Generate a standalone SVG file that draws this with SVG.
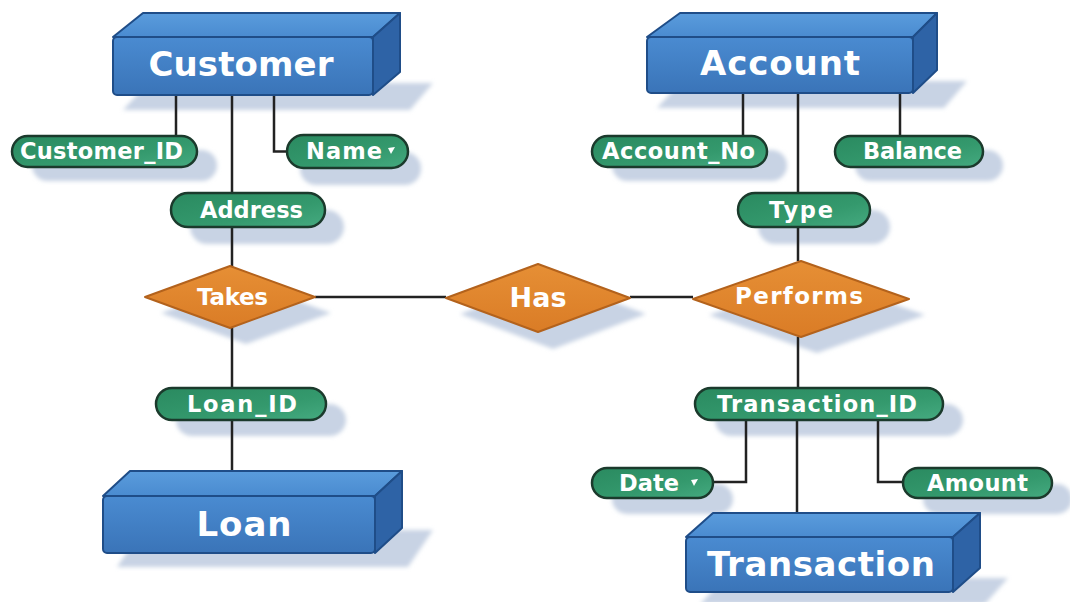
<svg xmlns="http://www.w3.org/2000/svg" width="1070" height="602" viewBox="0 0 1070 602">
<defs>
<linearGradient id="gFront" x1="0" y1="0" x2="0" y2="1"><stop offset="0" stop-color="#4a8bd1"/><stop offset="1" stop-color="#3a74b8"/></linearGradient>
<linearGradient id="gTop" x1="0" y1="0" x2="0" y2="1"><stop offset="0" stop-color="#5a9cdc"/><stop offset="1" stop-color="#4a8bd0"/></linearGradient>
<linearGradient id="gPill" x1="0" y1="0" x2="1" y2="1"><stop offset="0" stop-color="#2a8a60"/><stop offset="0.6" stop-color="#34996d"/><stop offset="1" stop-color="#45aa80"/></linearGradient>
<linearGradient id="gDia" x1="0" y1="0" x2="0" y2="1"><stop offset="0" stop-color="#e68f35"/><stop offset="1" stop-color="#da7c26"/></linearGradient>
<filter id="blur" x="-20%" y="-50%" width="140%" height="200%"><feGaussianBlur stdDeviation="2"/></filter>
</defs>
<style>
.front{fill:url(#gFront);stroke:#1f4d88;stroke-width:2;stroke-linejoin:round}
.top{fill:url(#gTop);stroke:#1f4d88;stroke-width:2;stroke-linejoin:round}
.side{fill:#2e63a6;stroke:#1f4d88;stroke-width:2;stroke-linejoin:round}
.pill{fill:url(#gPill);stroke:#1b3a2c;stroke-width:2.5}
.dia{fill:url(#gDia);stroke:#b3621c;stroke-width:2;stroke-linejoin:round}
.sh{fill:#c8d3e4;filter:url(#blur)}
.et{font-family:"DejaVu Sans","Liberation Sans",sans-serif;font-weight:bold;font-size:34px;fill:#fff;text-anchor:middle}
.at{font-family:"DejaVu Sans","Liberation Sans",sans-serif;font-weight:bold;font-size:22.5px;fill:#fff;text-anchor:middle}
.rt{font-family:"DejaVu Sans","Liberation Sans",sans-serif;font-weight:bold;font-size:23px;fill:#fff;text-anchor:middle}
.rt.big{font-size:27px}
.mark{fill:#fff}
.ln{stroke:#222;stroke-width:2.5;fill:none}
</style>
<rect width="1070" height="602" fill="#ffffff"/>
<g id="shadows">
<polygon class="sh" points="123,110 410,110 433,83 148,83"/>
<polygon class="sh" points="657,108 944,108 967,81 682,81"/>
<polygon class="sh" points="117,567 408,567 433,530 142,530"/>
<polygon class="sh" points="700,604 985,604 1008,578 725,578"/>
<rect class="sh" x="32" y="150" width="185" height="31" rx="15.5"/>
<rect class="sh" x="300" y="152" width="121" height="33" rx="16"/>
<rect class="sh" x="190" y="210" width="154" height="34" rx="17"/>
<rect class="sh" x="612" y="150" width="175" height="31" rx="15.5"/>
<rect class="sh" x="855" y="150" width="148" height="31" rx="15.5"/>
<rect class="sh" x="758" y="210" width="132" height="34" rx="17"/>
<rect class="sh" x="176" y="404" width="170" height="32" rx="16"/>
<rect class="sh" x="715" y="404" width="248" height="32" rx="16"/>
<rect class="sh" x="612" y="484" width="121" height="30" rx="15"/>
<rect class="sh" x="923" y="484" width="149" height="30" rx="15"/>
<polygon class="sh" points="161,313 246,282 331,313 246,344"/>
<polygon class="sh" points="460,314 553,279 646,314 553,349"/>
<polygon class="sh" points="709,315 817,277 925,315 817,353"/>
</g>
<g id="connectors">
<path class="ln" d="M176 95 V136"/>
<path class="ln" d="M232 95 V193"/>
<path class="ln" d="M274 95 V151.5 H287"/>
<path class="ln" d="M232 227 V267"/>
<path class="ln" d="M232 328 V388"/>
<path class="ln" d="M232 420 V471"/>
<path class="ln" d="M315 297 H446"/>
<path class="ln" d="M630 297 H693"/>
<path class="ln" d="M743 93 V136"/>
<path class="ln" d="M798 93 V193"/>
<path class="ln" d="M900 93 V136"/>
<path class="ln" d="M798 227 V261"/>
<path class="ln" d="M798 337 V388"/>
<path class="ln" d="M797 420 V513"/>
<path class="ln" d="M746 420 V482 H713"/>
<path class="ln" d="M878 420 V482 H903"/>
</g>
<g id="customer">
<polygon class="top" points="113,37 143,13 400,13 373,37"/>
<polygon class="side" points="373,37 400,13 400,72 373,95"/>
<rect class="front" x="113" y="37" width="260" height="58" rx="4"/>
<text class="et" x="241" y="76" textLength="185" lengthAdjust="spacing">Customer</text>
</g>
<g id="account">
<polygon class="top" points="647,37 680,13 937,13 913,37"/>
<polygon class="side" points="913,37 937,13 937,70 913,93"/>
<rect class="front" x="647" y="37" width="266" height="56" rx="4"/>
<text class="et" x="780" y="75" textLength="160" lengthAdjust="spacing">Account</text>
</g>
<g id="loan">
<polygon class="top" points="103,496 130,471 402,471 375,496"/>
<polygon class="side" points="375,496 402,471 402,528 375,553"/>
<rect class="front" x="103" y="496" width="272" height="57" rx="4"/>
<text class="et" x="244" y="536" textLength="95" lengthAdjust="spacing">Loan</text>
</g>
<g id="transaction">
<polygon class="top" points="686,537 713,513 980,513 953,537"/>
<polygon class="side" points="953,537 980,513 980,568 953,592"/>
<rect class="front" x="686" y="537" width="267" height="55" rx="4"/>
<text class="et" x="821" y="576" textLength="228" lengthAdjust="spacing">Transaction</text>
</g>
<g id="customer_id">
<rect class="pill" x="12" y="136" width="185" height="31" rx="15.5"/>
<text class="at" x="101.5" y="159" textLength="163" lengthAdjust="spacing">Customer_ID</text>
</g>
<g id="name">
<rect class="pill" x="287" y="135" width="121" height="33" rx="16.5"/>
<text class="at" x="344" y="159" textLength="76" lengthAdjust="spacing">Name</text>
<polygon class="mark" points="388,148 395,147 391,154"/>
</g>
<g id="address">
<rect class="pill" x="171" y="193" width="154" height="34" rx="17"/>
<text class="at" x="251.5" y="218" textLength="103" lengthAdjust="spacing">Address</text>
</g>
<g id="account_no">
<rect class="pill" x="592" y="136" width="175" height="31" rx="15.5"/>
<text class="at" x="678.5" y="159" textLength="153" lengthAdjust="spacing">Account_No</text>
</g>
<g id="balance">
<rect class="pill" x="835" y="136" width="148" height="31" rx="15.5"/>
<text class="at" x="912.5" y="159" textLength="99" lengthAdjust="spacing">Balance</text>
</g>
<g id="type">
<rect class="pill" x="738" y="193" width="132" height="34" rx="17"/>
<text class="at" x="801" y="218" textLength="64" lengthAdjust="spacing">Type</text>
</g>
<g id="loan_id">
<rect class="pill" x="156" y="388" width="170" height="32" rx="16"/>
<text class="at" x="242" y="412" textLength="110" lengthAdjust="spacing">Loan_ID</text>
</g>
<g id="transaction_id">
<rect class="pill" x="695" y="388" width="248" height="32" rx="16"/>
<text class="at" x="817" y="412" textLength="200" lengthAdjust="spacing">Transaction_ID</text>
</g>
<g id="date">
<rect class="pill" x="592" y="468" width="121" height="30" rx="15"/>
<text class="at" x="649" y="491" textLength="60" lengthAdjust="spacing">Date</text>
<polygon class="mark" points="691,480 698,479 694,486"/>
</g>
<g id="amount">
<rect class="pill" x="903" y="468" width="149" height="30" rx="15"/>
<text class="at" x="977.5" y="491" textLength="101" lengthAdjust="spacing">Amount</text>
</g>
<g id="takes">
<polygon class="dia" points="145,297 230,266 315,297 230,328"/>
<text class="rt" x="232.5" y="305" textLength="71" lengthAdjust="spacing">Takes</text>
</g>
<g id="has">
<polygon class="dia" points="446,298 538,264 630,298 538,332"/>
<text class="rt big" x="538" y="307" textLength="57" lengthAdjust="spacing">Has</text>
</g>
<g id="performs">
<polygon class="dia" points="693,299 801,261 909,299 801,337"/>
<text class="rt" x="799" y="304" textLength="128" lengthAdjust="spacing">Performs</text>
</g>
</svg>
